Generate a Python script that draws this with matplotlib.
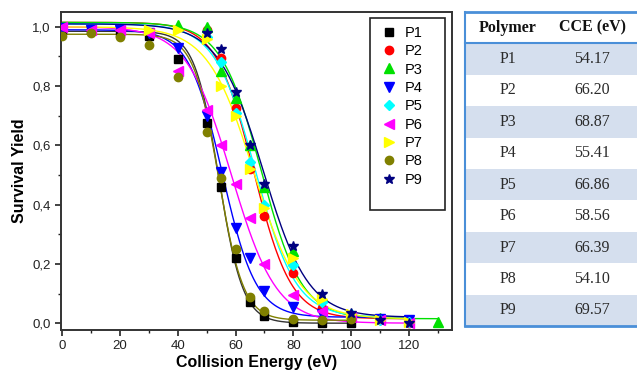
import numpy as np
import matplotlib
matplotlib.use("Agg")
import matplotlib.pyplot as plt
from matplotlib.patches import Rectangle
from matplotlib.ticker import MultipleLocator, FuncFormatter

# ---------------- data ----------------
polymers = ["P1", "P2", "P3", "P4", "P5", "P6", "P7", "P8", "P9"]
cce = [54.17, 66.20, 68.87, 55.41, 66.86, 58.56, 66.39, 54.10, 69.57]

x_short = [0, 10, 20, 30, 40, 50, 55, 60, 65, 70, 80, 90, 100]
x_long = [0, 10, 20, 30, 40, 50, 55, 60, 65, 70, 80, 90, 100, 110, 120]
x_from50 = [50, 55, 60, 65, 70, 80, 90, 100, 110, 120]
x_p3 = [40, 50, 55, 60, 65, 70, 80, 90, 100, 110, 120, 130]
x_p7 = [30, 40, 50, 55, 60, 65, 70, 80, 90, 100, 110, 120]

y_p1 = [0.99, 0.99, 0.98, 0.97, 0.89, 0.675, 0.46, 0.22, 0.07, 0.025, 0.005, 0.0, 0.0]
y_p2 = [0.99, 0.895, 0.725, 0.52, 0.36, 0.17, 0.05, 0.02, 0.01, 0.0]
y_p3 = [1.005, 1.0, 0.85, 0.76, 0.60, 0.46, 0.245, 0.09, 0.03, 0.017, 0.01, 0.005]
y_p4 = [0.995, 0.99, 0.99, 0.98, 0.93, 0.70, 0.51, 0.32, 0.22, 0.11, 0.055, 0.03, 0.02, 0.015, 0.01]
y_p5 = [0.965, 0.88, 0.71, 0.545, 0.40, 0.196, 0.07, 0.03, 0.01, 0.005]
y_p6 = [1.0, 0.99, 0.99, 0.98, 0.85, 0.72, 0.60, 0.47, 0.355, 0.20, 0.095, 0.04, 0.02, 0.01, 0.0]
y_p7 = [0.99, 0.99, 0.96, 0.80, 0.70, 0.52, 0.39, 0.22, 0.08, 0.03, 0.01, 0.005]
y_p8 = [0.97, 0.98, 0.965, 0.94, 0.83, 0.645, 0.49, 0.25, 0.09, 0.04, 0.015, 0.01, 0.015]
y_p9 = [0.98, 0.925, 0.78, 0.60, 0.47, 0.26, 0.10, 0.035, 0.01, 0.0]

series_x = [x_short, x_from50, x_p3, x_long, x_from50, x_long, x_p7, x_short, x_from50]
series_y = [y_p1, y_p2, y_p3, y_p4, y_p5, y_p6, y_p7, y_p8, y_p9]

# Boltzmann fit parameters (x0 = CCE)
fit_a1 = [0.985, 1.015, 1.015, 0.99, 1.01, 1.0, 1.0, 0.975, 1.01]
fit_a2 = [0.0, 0.015, 0.015, 0.02, 0.02, 0.0, 0.015, 0.01, 0.02]
fit_dx = [4.2, 6.5, 7.0, 5.8, 7.0, 7.8, 8.0, 4.3, 7.8]

colors = ["#000000", "#FF0000", "#00E000", "#0000FF", "#00FFFF", "#FF00FF",
          "#FFFF00", "#808000", "#000080"]
line_colors = ["#333333", "#FF0000", "#00E000", "#0000FF", "#00FFFF", "#FF00FF",
               "#FFFF00", "#808000", "#000080"]
markers = ["s", "o", "^", "v", "D", "<", ">", "o", "*"]
msizes = [5.5, 6, 6.5, 6.5, 5.5, 6.5, 6.5, 6, 7.5]

# ---------------- figure ----------------
plt.rcParams["font.family"] = ["Liberation Sans", "DejaVu Sans"]
fig = plt.figure(figsize=(6.37, 3.77), dpi=100)
ax = fig.add_axes([61 / 637, 1 - 330 / 377, (452 - 61) / 637, (330 - 12) / 377])

for i in range(len(polymers)):
    xs = np.array(series_x[i], dtype=float)
    xf = np.linspace(0, xs.max(), 300)
    yf = fit_a2[i] + (fit_a1[i] - fit_a2[i]) / (1 + np.exp((xf - cce[i]) / fit_dx[i]))
    ax.plot(xf, yf, color=line_colors[i], lw=1.0, zorder=2)
for i in range(len(polymers)):
    ax.plot(series_x[i], series_y[i], linestyle="none", marker=markers[i],
            ms=msizes[i], color=colors[i], mec=colors[i], label=polymers[i], zorder=3)

ax.set_xlim(-0.5, 135)
ax.set_ylim(-0.023, 1.05)
ax.xaxis.set_major_locator(MultipleLocator(20))
ax.xaxis.set_minor_locator(MultipleLocator(10))
ax.yaxis.set_major_locator(MultipleLocator(0.2))
ax.yaxis.set_minor_locator(MultipleLocator(0.1))
ax.yaxis.set_major_formatter(FuncFormatter(lambda v, p: f"{v:.1f}".replace(".", ",")))
ax.tick_params(which="major", direction="out", length=4, width=1.2, labelsize=9.5,
               colors="#222222")
ax.tick_params(which="minor", direction="out", length=2.5, width=1.0, colors="#222222")
for s in ax.spines.values():
    s.set_linewidth(1.4)
    s.set_color("#333333")
ax.set_xlabel("Collision Energy (eV)", fontsize=11.5, fontweight="bold", labelpad=2)
ax.set_ylabel("Survival Yield", fontsize=11.5, fontweight="bold", labelpad=4)

leg = ax.legend(loc="upper left", bbox_to_anchor=(0.805, 0.975), frameon=False,
                fontsize=10.5, handlelength=1.0, handletextpad=0.6,
                labelspacing=0.3, borderaxespad=0, numpoints=1)
ax.add_patch(Rectangle((0.79, 0.377), 0.192, 0.604, transform=ax.transAxes,
                       fill=False, edgecolor="#222222", lw=1.2, zorder=5))

# ---------------- table ----------------
tab = fig.add_axes([465 / 637, 1 - 326 / 377, (637 - 465) / 637, (326 - 12) / 377])
tab.set_xlim(0, 1)
tab.set_ylim(0, 10)
tab.axis("off")
nrows = len(polymers)
for r in range(nrows):
    ytop = 9 - r
    if r % 2 == 0:
        tab.add_patch(Rectangle((0, ytop - 1), 1, 1, facecolor="#D5DFEE",
                                edgecolor="none", zorder=1))
    tab.text(0.25, ytop - 0.5, polymers[r], ha="center", va="center",
             fontsize=11.5, family="Liberation Serif", color="#2a2a2a", zorder=3)
    tab.text(0.74, ytop - 0.5, f"{cce[r]:.2f}", ha="center", va="center",
             fontsize=11.5, family="Liberation Serif", color="#2a2a2a", zorder=3)
tab.text(0.25, 9.5, "Polymer", ha="center", va="center", fontsize=11.5,
         family="Liberation Serif", fontweight="bold", color="#111111")
tab.text(0.74, 9.5, "CCE (eV)", ha="center", va="center", fontsize=11.5,
         family="Liberation Serif", fontweight="bold", color="#111111")
blue = "#4A8FD8"
tab.plot([0, 1], [10, 10], color=blue, lw=2.0, clip_on=False, zorder=4)
tab.plot([0, 1], [9, 9], color=blue, lw=1.5, clip_on=False, zorder=4)
tab.plot([0, 1], [0, 0], color=blue, lw=2.0, clip_on=False, zorder=4)
tab.plot([0, 0], [0, 10], color=blue, lw=1.5, clip_on=False, zorder=4)

fig.savefig("out.png", dpi=100)
